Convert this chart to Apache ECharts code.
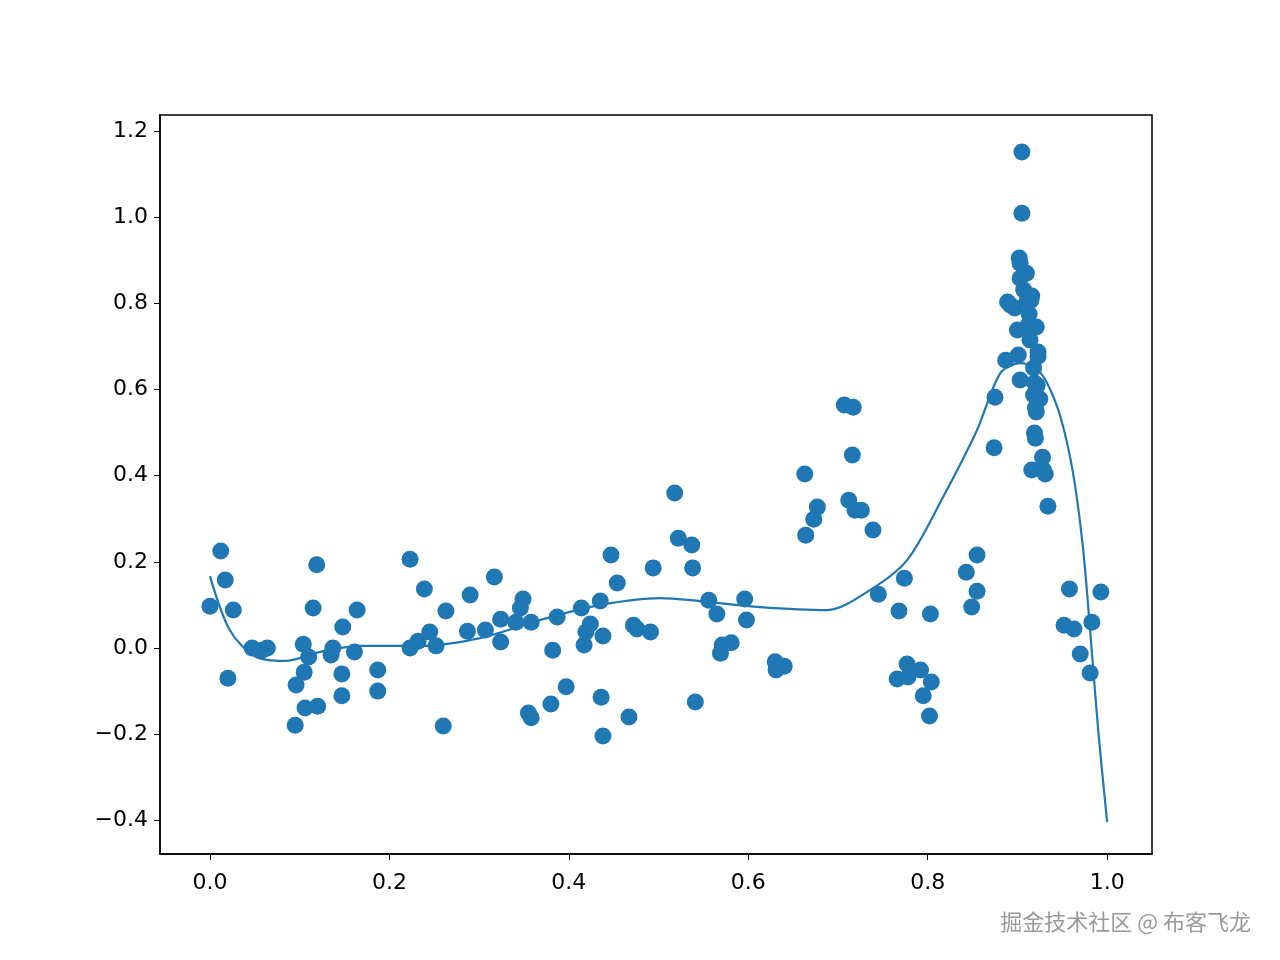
<!DOCTYPE html>
<html>
<head>
<meta charset="utf-8">
<script src="https://cdn.jsdelivr.net/npm/echarts@6/dist/echarts.min.js"></script>
<style>html,body{margin:0;padding:0;background:#fff}#chart{width:1280px;height:960px}</style>
</head>
<body>
<div id="chart"></div>
<script>
// scatter points [x, y]
var points = [
[0.000,0.097],[0.012,0.225],[0.017,0.158],[0.020,-0.070],[0.026,0.088],[0.047,0.000],[0.058,-0.005],[0.064,0.000],
[0.096,-0.086],[0.095,-0.179],[0.104,0.009],[0.105,-0.056],[0.106,-0.139],[0.110,-0.021],[0.115,0.093],[0.119,0.193],
[0.120,-0.135],[0.135,-0.016],[0.137,0.000],[0.147,-0.060],[0.147,-0.111],[0.148,0.049],[0.161,-0.009],[0.164,0.088],
[0.187,-0.051],[0.187,-0.100],[0.223,0.206],[0.223,0.000],[0.232,0.016],[0.239,0.137],[0.245,0.037],[0.252,0.005],
[0.260,-0.181],[0.263,0.086],[0.287,0.039],[0.290,0.123],[0.307,0.042],[0.317,0.165],[0.324,0.014],[0.324,0.067],
[0.341,0.060],[0.346,0.093],[0.349,0.114],[0.355,-0.151],[0.358,-0.162],[0.358,0.060],[0.382,-0.005],[0.387,0.072],
[0.380,-0.130],[0.397,-0.090],[0.414,0.093],[0.417,0.007],[0.419,0.037],[0.424,0.056],[0.435,0.109],[0.436,-0.114],
[0.438,-0.204],[0.438,0.028],[0.447,0.216],[0.454,0.151],[0.467,-0.160],[0.472,0.053],[0.476,0.044],[0.491,0.037],
[0.494,0.186],[0.518,0.360],[0.522,0.255],[0.537,0.239],[0.538,0.186],[0.541,-0.125],[0.556,0.111],[0.565,0.079],
[0.569,-0.012],[0.571,0.007],[0.581,0.012],[0.596,0.114],[0.598,0.065],[0.630,-0.032],[0.631,-0.051],[0.640,-0.042],
[0.663,0.404],[0.664,0.262],[0.673,0.299],[0.677,0.327],[0.707,0.564],[0.717,0.559],[0.712,0.343],[0.716,0.448],
[0.719,0.320],[0.726,0.320],[0.739,0.274],[0.745,0.125],[0.766,-0.072],[0.768,0.086],[0.774,0.162],[0.777,-0.037],
[0.778,-0.067],[0.792,-0.051],[0.795,-0.111],[0.802,-0.158],[0.804,-0.079],[0.803,0.079],[0.843,0.176],[0.849,0.095],
[0.855,0.216],[0.855,0.132],[0.874,0.465],[0.875,0.582],[0.887,0.668],[0.889,0.803],[0.892,0.796],[0.897,0.789],
[0.902,0.905],[0.903,0.893],[0.900,0.738],[0.901,0.680],[0.903,0.858],[0.903,0.622],[0.905,1.151],[0.905,1.009],
[0.907,0.831],[0.910,0.870],[0.911,0.807],[0.912,0.749],[0.913,0.775],[0.914,0.715],[0.915,0.807],[0.916,0.817],
[0.918,0.650],[0.918,0.587],[0.919,0.615],[0.920,0.557],[0.916,0.413],[0.919,0.499],[0.920,0.487],[0.921,0.548],
[0.922,0.610],[0.923,0.677],[0.925,0.578],[0.928,0.443],[0.929,0.413],[0.931,0.404],[0.934,0.329],[0.952,0.053],
[0.958,0.137],[0.963,0.044],[0.970,-0.014],[0.983,0.060],[0.981,-0.058],[0.993,0.130],[0.921,0.745],[0.923,0.687],
[0.912,0.819]
];
// fitted curve [x, y]
var curve = [
[0,0.167],[0.022,0.042],[0.050,-0.019],[0.084,-0.030],[0.123,-0.009],[0.167,0.005],[0.234,0.005],[0.301,0.023],
[0.368,0.065],[0.435,0.100],[0.502,0.116],[0.546,0.109],[0.613,0.095],[0.688,0.088],[0.736,0.135],[0.777,0.204],
[0.817,0.350],[0.855,0.506],[0.881,0.638],[0.903,0.661],[0.920,0.650],[0.933,0.615],[0.948,0.536],[0.962,0.406],
[0.973,0.234],[0.981,0.042],[0.990,-0.190],[1.000,-0.404]
];
var xTicks = [0, 0.2, 0.4, 0.6, 0.8, 1.0];
var yTicks = [-0.4, -0.2, 0, 0.2, 0.4, 0.6, 0.8, 1.0, 1.2];

var fmt = function (v) { var s = v.toFixed(1); return s.charAt(0) === '-' ? '\u2212' + s.slice(1) : s; };
var lbl = { fontFamily: 'DejaVu Sans', fontSize: 22, color: '#000', formatter: fmt };

var myChart = echarts.init(document.getElementById('chart'));
myChart.setOption({
    animation: false,
    grid: { left: 160, right: 128, top: 115, bottom: 106, show: true, borderColor: '#000', borderWidth: 1.5 },
    xAxis: {
        type: 'value', min: -0.0557, max: 1.050,
        axisLine: { show: true, onZero: false, lineStyle: { color: '#000', width: 1.5 } },
        axisTick: { show: true, length: 6, customValues: xTicks, lineStyle: { color: '#000' } },
        axisLabel: Object.assign({ customValues: xTicks, margin: 18 }, lbl),
        splitLine: { show: false }
    },
    yAxis: {
        type: 'value', min: -0.478, max: 1.237,
        axisLine: { show: true, onZero: false, lineStyle: { color: '#000', width: 1.5 } },
        axisTick: { show: true, length: 6, customValues: yTicks, lineStyle: { color: '#000' } },
        axisLabel: Object.assign({ customValues: yTicks, margin: 12 }, lbl),
        splitLine: { show: false }
    },
    series: [
        { type: 'scatter', data: points, symbolSize: 17, itemStyle: { color: '#1f77b4', opacity: 1 } },
        { type: 'line', data: curve, smooth: 0.3, showSymbol: false,
          lineStyle: { color: '#1f77b4', width: 2.2 } }
    ],
    graphic: [{
        type: 'text', right: 28, bottom: 26,
        style: { text: '掘金技术社区 @ 布客飞龙', font: '22px "Noto Sans CJK SC"', fill: '#999',
                 stroke: '#fff', lineWidth: 2 }
    }]
});
</script>
</body>
</html>
